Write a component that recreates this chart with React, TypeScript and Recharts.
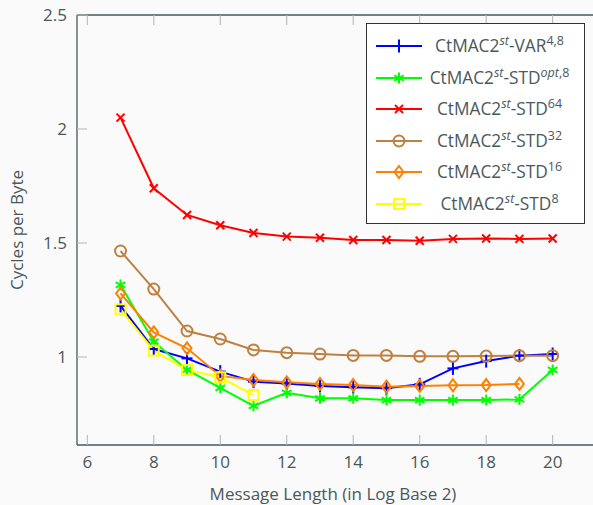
import React from 'react';
import { LineChart, Line, XAxis, YAxis } from 'recharts';

const xValues = [7, 8, 9, 10, 11, 12, 13, 14, 15, 16, 17, 18, 19, 20];
const var48 = [1.224, 1.035, 0.994, 0.936, 0.892, 0.884, 0.873, 0.867, 0.863, 0.88, 0.95, 0.982, 1.006, 1.013];
const stdOpt8 = [1.316, 1.067, 0.943, 0.865, 0.786, 0.843, 0.819, 0.819, 0.811, 0.811, 0.811, 0.811, 0.814, 0.943];
const std64 = [2.05, 1.74, 1.623, 1.578, 1.544, 1.528, 1.523, 1.513, 1.513, 1.51, 1.518, 1.52, 1.518, 1.52];
const std32 = [1.465, 1.298, 1.114, 1.079, 1.031, 1.019, 1.013, 1.007, 1.007, 1.003, 1.003, 1.004, 1.006, 1.006];
const std16 = [1.279, 1.108, 1.038, 0.917, 0.899, 0.889, 0.882, 0.877, 0.87, 0.873, 0.876, 0.877, 0.882, null];
const std8 = [1.209, 1.028, 0.943, 0.911, 0.833, null, null, null, null, null, null, null, null, null];

const xTicks = [6, 8, 10, 12, 14, 16, 18, 20];
const yTicks = [1, 1.5, 2, 2.5];

const series = [
  { key: 'var48', values: var48, color: '#0000ff', marker: 'plus', base: 'VAR', sup: '4,8', italic: false },
  { key: 'stdOpt8', values: stdOpt8, color: '#00ff00', marker: 'star', base: 'STD', sup: 'opt,8', italic: true },
  { key: 'std64', values: std64, color: '#ff0000', marker: 'x', base: 'STD', sup: '64', italic: false },
  { key: 'std32', values: std32, color: '#bf8040', marker: 'circle', base: 'STD', sup: '32', italic: false },
  { key: 'std16', values: std16, color: '#ff8000', marker: 'diamond', base: 'STD', sup: '16', italic: false },
  { key: 'std8', values: std8, color: '#ffff00', marker: 'square', base: 'STD', sup: '8', italic: false },
];

const data = xValues.map((x, i) => {
  const row: any = { x };
  series.forEach((s) => {
    row[s.key] = s.values[i];
  });
  return row;
});

const FONT = '"Open Sans", sans-serif';
const TEXT = '#4a585b';
const AXIS = '#4a575a';
const TICK = '#b4b4b4';
const BG = '#fafafa';
const FS = 17;

function Marker({ type, cx, cy, color }: any) {
  if (cx == null || cy == null || isNaN(cx) || isNaN(cy)) return null;
  const sw = 2;
  switch (type) {
    case 'plus':
      return (
        <g stroke={color} strokeWidth={sw}>
          <line x1={cx - 5.5} y1={cy} x2={cx + 5.5} y2={cy} />
          <line x1={cx} y1={cy - 6.5} x2={cx} y2={cy + 6.5} />
        </g>
      );
    case 'star': {
      const r = 5.5;
      const lines = [90, 30, 150].map((a) => {
        const rad = (a * Math.PI) / 180;
        return (
          <line key={a} x1={cx - r * Math.cos(rad)} y1={cy - r * Math.sin(rad)} x2={cx + r * Math.cos(rad)} y2={cy + r * Math.sin(rad)} />
        );
      });
      return <g stroke={color} strokeWidth={sw}>{lines}</g>;
    }
    case 'x':
      return (
        <g stroke={color} strokeWidth={sw}>
          <line x1={cx - 4} y1={cy - 4} x2={cx + 4} y2={cy + 4} />
          <line x1={cx - 4} y1={cy + 4} x2={cx + 4} y2={cy - 4} />
        </g>
      );
    case 'circle':
      return <circle cx={cx} cy={cy} r={5.5} fill="none" stroke={color} strokeWidth={sw} />;
    case 'diamond':
      return (
        <polygon
          points={`${cx},${cy - 6} ${cx + 4.5},${cy} ${cx},${cy + 6} ${cx - 4.5},${cy}`}
          fill="none"
          stroke={color}
          strokeWidth={sw}
        />
      );
    case 'square':
      return <rect x={cx - 5} y={cy - 5} width={10} height={10} fill="none" stroke={color} strokeWidth={sw} />;
    default:
      return null;
  }
}

const BottomTick = (props: any) => {
  const { x, y, payload } = props;
  return (
    <g>
      <line x1={x} y1={y} x2={x} y2={y - 10} stroke={TICK} strokeWidth={1} />
      <text x={x} y={y + 23} textAnchor="middle" fill={TEXT} fontSize={FS} fontFamily={FONT}>
        {payload.value}
      </text>
    </g>
  );
};

const TopTick = (props: any) => {
  const { x, y } = props;
  return <line x1={x} y1={y} x2={x} y2={y + 10} stroke={TICK} strokeWidth={1} />;
};

const LeftTick = (props: any) => {
  const { x, y, payload } = props;
  return (
    <g>
      <line x1={x} y1={y} x2={x + 10} y2={y} stroke={TICK} strokeWidth={1} />
      <text x={x - 10} y={y} dy={6} textAnchor="end" fill={TEXT} fontSize={FS} fontFamily={FONT}>
        {payload.value}
      </text>
    </g>
  );
};

const LegendBox = () => {
  return (
    <div
      style={{
        position: 'absolute',
        left: 366,
        top: 23,
        width: 219,
        height: 201,
        boxSizing: 'border-box',
        border: '1px solid #333',
        background: '#ffffff',
        fontFamily: FONT,
        color: TEXT,
      }}
    >
      {series.map((s, i) => {
        const cy = 22 + i * 31.5;
        return (
          <div key={s.key} style={{ position: 'absolute', left: 0, top: cy - 13, width: 217, height: 26 }}>
            <svg width={60} height={26} style={{ position: 'absolute', left: 0, top: 0 }}>
              <line x1={9} y1={13} x2={55} y2={13} stroke={s.color} strokeWidth={2} />
              <Marker type={s.marker} cx={32} cy={13} color={s.color} />
            </svg>
            <div
              style={{
                position: 'absolute',
                left: 54,
                width: 157,
                top: 0,
                height: 26,
                lineHeight: '26px',
                textAlign: 'center',
                fontSize: 17.3,
                whiteSpace: 'nowrap',
              }}
            >
              CtMAC2
              <span style={{ fontSize: 12.5, fontStyle: 'italic', position: 'relative', top: -7 }}>st</span>
              -{s.base}
              <span style={{ fontSize: 12.5, position: 'relative', top: -7 }}>
                {s.italic ? <i>opt</i> : null}
                {s.italic ? ',8' : s.sup}
              </span>
            </div>
          </div>
        );
      })}
    </div>
  );
};

export default function App() {
  return (
    <div
      style={{
        position: 'absolute',
        left: 0,
        top: 0,
        width: 593,
        height: 505,
        overflow: 'hidden',
        background: BG,
      }}
    >
      <LineChart width={620} height={505} data={data} margin={{ top: 0, right: 10, bottom: 0, left: 17 }}>
        <XAxis
          xAxisId="bottom"
          dataKey="x"
          type="number"
          domain={[5.69, 21.725]}
          allowDataOverflow
          ticks={xTicks}
          tick={<BottomTick />}
          tickLine={false}
          tickSize={0}
          tickMargin={0}
          height={60}
          axisLine={{ stroke: AXIS, strokeWidth: 1.3 }}
          interval={0}
          label={{
            content: () => (
              <text x={333} y={500} textAnchor="middle" fill={TEXT} fontSize={FS} fontFamily={FONT}>
                Message Length (in Log Base 2)
              </text>
            ),
          }}
        />
        <XAxis
          xAxisId="top"
          orientation="top"
          dataKey="x"
          type="number"
          domain={[5.69, 21.725]}
          allowDataOverflow
          ticks={xTicks}
          tick={<TopTick />}
          tickLine={false}
          tickSize={0}
          tickMargin={0}
          height={15}
          axisLine={{ stroke: AXIS, strokeWidth: 1.3 }}
          interval={0}
        />
        <YAxis
          type="number"
          domain={[0.614, 2.5]}
          allowDataOverflow
          ticks={yTicks}
          tick={<LeftTick />}
          tickLine={false}
          tickSize={0}
          tickMargin={0}
          width={60}
          axisLine={{ stroke: AXIS, strokeWidth: 1.3 }}
          interval={0}
          label={{
            content: () => (
              <text
                x={16}
                y={230}
                transform="rotate(-90, 16, 230)"
                textAnchor="middle"
                dominantBaseline="central"
                fill={TEXT}
                fontSize={FS}
                fontFamily={FONT}
              >
                Cycles per Byte
              </text>
            ),
          }}
        />
        {series.map((s) => (
          <Line
            key={s.key}
            xAxisId="bottom"
            dataKey={s.key}
            name={s.key}
            stroke={s.color}
            strokeWidth={2}
            isAnimationActive={false}
            connectNulls={false}
            dot={(p: any) => <Marker key={`${s.key}-${p.index}`} type={s.marker} cx={p.cx} cy={p.cy} color={s.color} />}
            activeDot={false}
          />
        ))}
      </LineChart>
      <LegendBox />
    </div>
  );
}
